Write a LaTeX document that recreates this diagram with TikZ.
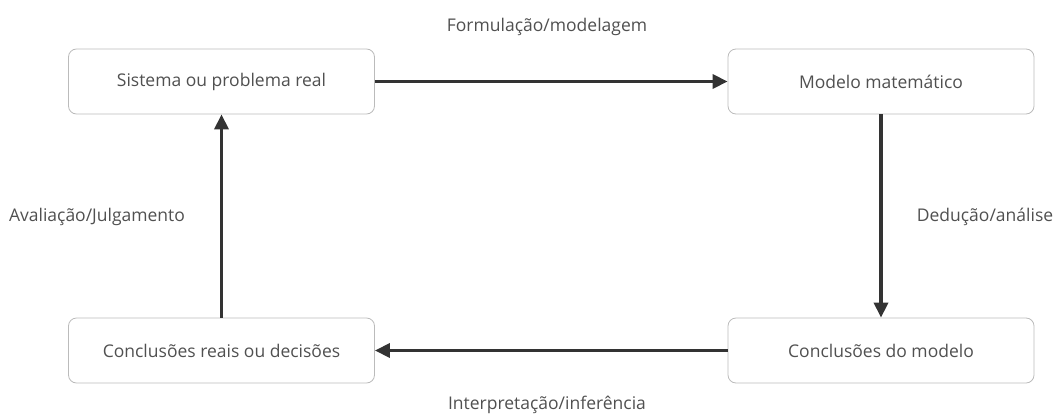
\documentclass[tikz,border=0pt]{standalone}
\usepackage{fontspec}
\setmainfont{Open Sans}
\usetikzlibrary{arrows.meta}
\definecolor{txt}{HTML}{505050}
\definecolor{edge}{HTML}{BBBBBB}
\definecolor{arr}{HTML}{333333}
\begin{document}
\begin{tikzpicture}[x=1pt,y=-1pt,
  box/.style={draw=edge,line width=0.8pt,rounded corners=8pt,minimum width=306pt,minimum height=65pt,text=txt,font=\fontsize{17.5}{20}\selectfont,inner sep=0pt},
  lab/.style={text=txt,font=\fontsize{17.5}{20}\selectfont,inner sep=0pt},
  conn/.style={draw=arr,line width=3.5pt,-{Triangle[length=15pt,width=14pt]}}]
\useasboundingbox (0,0) rectangle (1056,415);
\node[box] (real) at (221.5,81.5) {Sistema ou problema real};
\node[box] (mod) at (881,81.5) {Modelo matemático};
\node[box] (conc) at (221.5,350.5) {Conclusões reais ou decisões};
\node[box] (concm) at (881,350.5) {Conclusões do modelo};
\draw[conn] (real.east) -- (mod.west);
\draw[conn] (mod.south) -- (concm.north);
\draw[conn] (concm.west) -- (conc.east);
\draw[conn] (conc.north) -- (real.south);
\node[lab] (l1) at (547,27) {Formulação/modelagem};
\node[lab] (l2) at (97,217) {Avaliação/Julgamento};
\node[lab] (l3) at (985,217) {Dedução/análise};
\node[lab] (l4) at (547,405) {Interpretação/inferência};
\end{tikzpicture}
\end{document}
